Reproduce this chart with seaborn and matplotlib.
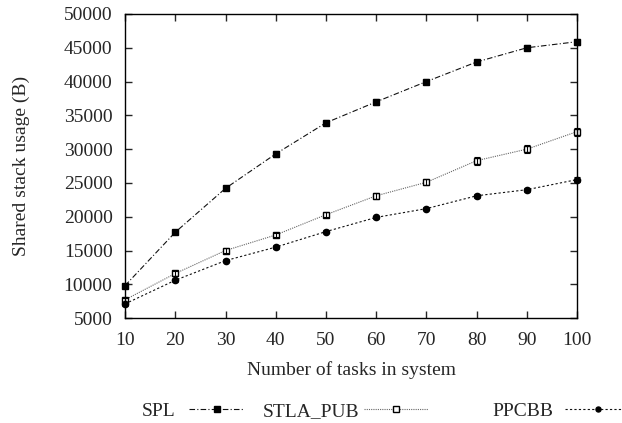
import matplotlib.pyplot as plt
import seaborn as sns
import pandas as pd

# data
tasks = [10, 20, 30, 40, 50, 60, 70, 80, 90, 100]
spl = [9800, 17700, 24200, 29300, 33900, 37000, 40000, 42900, 45000, 45900]
stla_pub = [7700, 11600, 15000, 17300, 20300, 23100, 25100, 28300, 30000, 32600]
ppcbb = [7100, 10600, 13500, 15500, 17800, 19900, 21200, 23100, 24000, 25500]
err_spl = [250, 300, 300, 450, 400, 450, 350, 300, 400, 450]
err_stla = [300, 350, 350, 350, 350, 450, 450, 600, 600, 600]
err_ppcbb = [250, 250, 250, 250, 250, 250, 250, 300, 300, 350]
series_names = ["SPL", "STLA_PUB", "PPCBB"]

sns.set_style("ticks")
plt.rcParams['font.family'] = ['Liberation Serif', 'DejaVu Serif']
plt.rcParams['font.size'] = 14

fig, ax = plt.subplots(figsize=(6.22, 4.23), dpi=100)

styles = {
    "SPL": dict(color="#111111", ls=(0, (5, 2, 1, 2)), marker="s", mfc="black", ms=5, lw=0.8),
    "STLA_PUB": dict(color="#666666", ls=(0, (1, 1)), marker="s", mfc="white", ms=5, lw=0.8),
    "PPCBB": dict(color="#111111", ls=(0, (2, 2)), marker="o", mfc="black", ms=4.5, lw=0.8),
}
values = {"SPL": spl, "STLA_PUB": stla_pub, "PPCBB": ppcbb}
errs = {"SPL": err_spl, "STLA_PUB": err_stla, "PPCBB": err_ppcbb}

for name in series_names:
    st = styles[name]
    df = pd.DataFrame({"tasks": tasks, "usage": values[name]})
    sns.lineplot(data=df, x="tasks", y="usage", ax=ax, color=st["color"],
                 linestyle=st["ls"], linewidth=st["lw"], marker=st["marker"],
                 markersize=st["ms"], markerfacecolor=st["mfc"],
                 markeredgecolor="black", markeredgewidth=1, label=name,
                 clip_on=False)
    ax.errorbar(tasks, values[name], yerr=errs[name], fmt="none",
                ecolor="black", elinewidth=0.8, capsize=2.5, capthick=0.8,
                clip_on=False)

ax.set_xlim(10, 100)
ax.set_ylim(5000, 50000)
ax.set_xticks(tasks)
ax.set_yticks(range(5000, 50001, 5000))
ax.set_xlabel("Number of tasks in system", labelpad=9)
ax.set_ylabel("Shared stack usage (B)", labelpad=24)
ax.tick_params(direction="in", top=True, right=True, length=5, width=1)
ax.tick_params(axis="y", pad=9)
ax.tick_params(axis="x", pad=10)
for sp in ax.spines.values():
    sp.set_linewidth(1)
    sp.set_color("black")

# gnuplot-like horizontal key: text first, then the sample
ax.get_legend().remove()
handles, labels = ax.get_legend_handles_labels()
key_x = [142, 263, 492]
key_len = [2.8, 3.3, 3.4]
key_gap = [0.7, 0.2, 0.6]
for h, lab, x0, hl, gap in zip(handles, labels, key_x, key_len, key_gap):
    fig.legend([h], [lab], loc="center left", frameon=False, markerfirst=False,
               bbox_to_anchor=(x0 / 622, 1 - 411 / 423), borderpad=0,
               borderaxespad=0, handlelength=hl, handletextpad=gap,
               markerscale=0.8, fontsize=14)

fig.subplots_adjust(left=0.201, right=0.928, top=0.967, bottom=0.248)
fig.savefig("out.png", dpi=100)
